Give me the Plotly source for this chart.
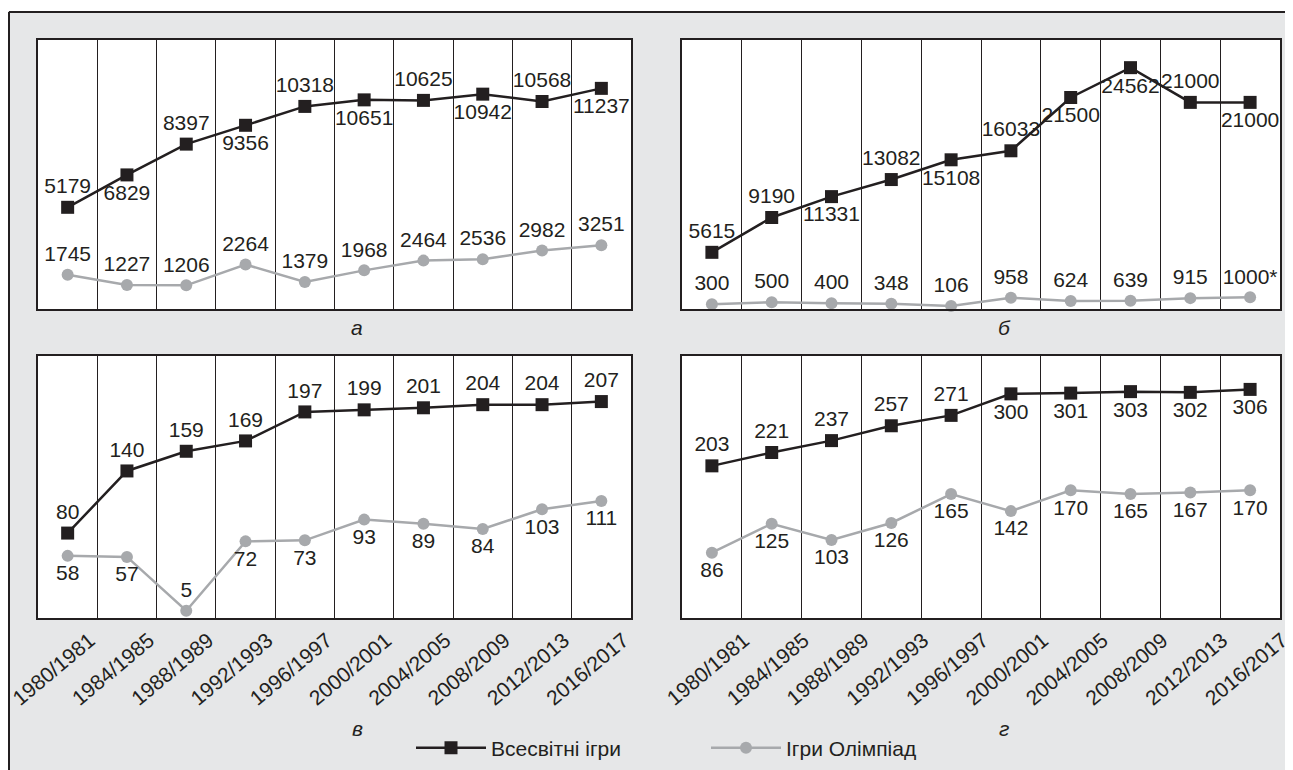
import plotly.graph_objects as go

periods = ["1980/1981", "1984/1985", "1988/1989", "1992/1993", "1996/1997",
           "2000/2001", "2004/2005", "2008/2009", "2012/2013", "2016/2017"]

# panel а
a_world = [5179, 6829, 8397, 9356, 10318, 10651, 10625, 10942, 10568, 11237]
a_olymp = [1745, 1227, 1206, 2264, 1379, 1968, 2464, 2536, 2982, 3251]
# panel б
b_world = [5615, 9190, 11331, 13082, 15108, 16033, 21500, 24562, 21000, 21000]
b_olymp = [300, 500, 400, 348, 106, 958, 624, 639, 915, 1000]
b_olymp_text = ["300", "500", "400", "348", "106", "958", "624", "639", "915", "1000*"]
# panel в
c_world = [80, 140, 159, 169, 197, 199, 201, 204, 204, 207]
c_olymp = [58, 57, 5, 72, 73, 93, 89, 84, 103, 111]
# panel г
d_world = [203, 221, 237, 257, 271, 300, 301, 303, 302, 306]
d_olymp = [86, 125, 103, 126, 165, 142, 170, 165, 167, 170]

series_names = ["Всесвітні ігри", "Ігри Олімпіад"]
panel_letters = ["а", "б", "в", "г"]

T, B = "top center", "bottom center"
pos = {
    "a_w": [T, B, T, B, T, B, T, B, T, B],
    "a_o": [T] * 10,
    "b_w": [T, T, B, T, B, T, B, B, T, B],
    "b_o": [T] * 10,
    "c_w": [T] * 10,
    "c_o": [B, B, T, B, B, B, B, B, B, B],
    "d_w": [T, T, T, T, T, B, B, B, B, B],
    "d_o": [B] * 10,
}

# page is 1293x770; the page body has an 8px margin, so the figure sits at (8, 8)
OX, OY = 8, 8
W, H = 1293 - OX, 770 - OY
DARK = "#231f20"
GREY = "#a7a9ac"
BG = "#e6e7e8"
FONT = "Liberation Sans, Arial, sans-serif"
FS = 21

def px_x(v):
    return (v - OX) / W

def px_y(v):
    return 1 - (v - OY) / H

fig = go.Figure()

panels = [
    ("a", a_world, a_olymp, [str(v) for v in a_olymp], (38, 631, 40, 309), [0, 13700], False, 0),
    ("b", b_world, b_olymp, b_olymp_text, (682, 1280, 40, 309), [-200, 27400], False, 0),
    ("c", c_world, c_olymp, [str(v) for v in c_olymp], (38, 631, 356, 618), [-2, 251], True, 22),
    ("d", d_world, d_olymp, [str(v) for v in d_olymp], (682, 1280, 356, 618), [-2, 351], True, 32),
]

layout_axes = {}
for i, (key, world, olymp, otext, box, yr, showlab, shift) in enumerate(panels):
    n = i + 1
    xa = "x" if n == 1 else f"x{n}"
    ya = "y" if n == 1 else f"y{n}"
    fig.add_trace(go.Scatter(
        x=periods, y=world, mode="lines+markers+text",
        text=[str(v) for v in world], textposition=pos[key + "_w"],
        textfont=dict(family=FONT, size=FS, color=DARK),
        line=dict(color=DARK, width=2.5),
        marker=dict(symbol="square", size=13, color=DARK),
        name=series_names[0], showlegend=(n == 1), legendrank=1,
        xaxis=xa, yaxis=ya, cliponaxis=False))
    fig.add_trace(go.Scatter(
        x=periods, y=olymp, mode="lines+markers+text",
        text=otext, textposition=pos[key + "_o"],
        textfont=dict(family=FONT, size=FS, color=DARK),
        line=dict(color=GREY, width=2.5),
        marker=dict(symbol="circle", size=12, color=GREY),
        name=series_names[1], showlegend=(n == 1), legendrank=2,
        xaxis=xa, yaxis=ya, cliponaxis=False))
    x0, x1, y0, y1 = box
    xname = "xaxis" if n == 1 else f"xaxis{n}"
    yname = "yaxis" if n == 1 else f"yaxis{n}"
    layout_axes[xname] = dict(
        domain=[px_x(x0), px_x(x1)], anchor=ya, type="category",
        categoryorder="array", categoryarray=periods,
        range=[-0.5, 9.5], showgrid=True, gridcolor=DARK, gridwidth=1,
        tickson="boundaries", ticks="", showline=True, mirror=True,
        linecolor=DARK, linewidth=2, zeroline=False, automargin=False,
        showticklabels=showlab, tickangle=-40,
        tickfont=dict(family=FONT, size=FS, color=DARK),
        ticklabelshift=shift, ticklabelstandoff=0,
    )
    layout_axes[yname] = dict(
        domain=[px_y(y1), px_y(y0)], anchor=xa, range=yr, automargin=False,
        showgrid=False, zeroline=False, showticklabels=False, ticks="",
        showline=True, mirror=True, linecolor=DARK, linewidth=2,
    )

fig.update_layout(**layout_axes)

annotations = []
for letter, (cx, cy) in zip(panel_letters, [(357, 327), (1004, 327), (357, 728), (1004, 728)]):
    annotations.append(dict(
        x=px_x(cx), y=px_y(cy), xref="paper", yref="paper", text=letter,
        showarrow=False, xanchor="center", yanchor="middle",
        font=dict(family=FONT, size=FS, color=DARK, style="italic")))

shapes = [
    # white strip above the outer frame
    dict(type="rect", xref="paper", yref="paper", x0=0, x1=1, y0=px_y(11), y1=1,
         line=dict(width=0), fillcolor="white", layer="below"),
    # outer frame (top and left edges)
    dict(type="line", xref="paper", yref="paper", x0=px_x(9), x1=1, y0=px_y(12), y1=px_y(12),
         line=dict(color=DARK, width=2), layer="below"),
    dict(type="line", xref="paper", yref="paper", x0=px_x(9), x1=px_x(9), y0=0, y1=px_y(12),
         line=dict(color=DARK, width=2), layer="below"),
]

fig.update_layout(
    width=W, height=H,
    margin=dict(l=0, r=0, t=0, b=0, autoexpand=False),
    paper_bgcolor=BG,
    plot_bgcolor="white",
    annotations=annotations,
    shapes=shapes,
    showlegend=True,
    legend=dict(orientation="h", x=px_x(411), y=px_y(748), xanchor="left", yanchor="middle",
                bgcolor="rgba(0,0,0,0)", font=dict(family=FONT, size=FS, color=DARK),
                itemwidth=70, entrywidth=210, traceorder="normal"),
)

fig.write_html("out.html", config={"displayModeBar": False})
